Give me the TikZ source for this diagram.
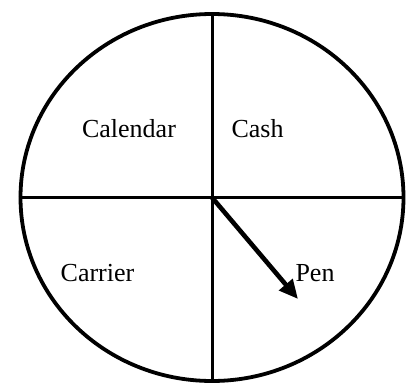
\documentclass[tikz,border=0pt]{standalone}
\usepackage{fontspec}
\setmainfont{Liberation Serif}
\usetikzlibrary{shapes.geometric,arrows.meta}
\begin{document}
\begin{tikzpicture}[x=1pt,y=-1pt,
  divider/.style={line width=3pt},
  label/.style={anchor=base,inner sep=0pt,font=\fontsize{26}{30}\selectfont},
  pointer/.style={line width=4.6pt,-{Triangle[length=19pt,width=17pt]}}]
\useasboundingbox (0,0) rectangle (409,383);
\node[draw,ellipse,line width=3.8pt,inner sep=0pt,minimum width=383pt,minimum height=367pt] (wheel) at (212,197.5) {};
\draw[divider] (wheel.north) -- (wheel.south);
\draw[divider] (wheel.west) -- (wheel.east);
\coordinate (tip) at (298,299);
\draw[pointer] (wheel.center) -- (tip);
\node[label] (cal) at (129,137.5) {Calendar};
\node[label] (cash) at (257.5,137.5) {Cash};
\node[label] (car) at (97.5,281.5) {Carrier};
\node[label] (pen) at (315,281.5) {Pen};
\end{tikzpicture}
\end{document}
